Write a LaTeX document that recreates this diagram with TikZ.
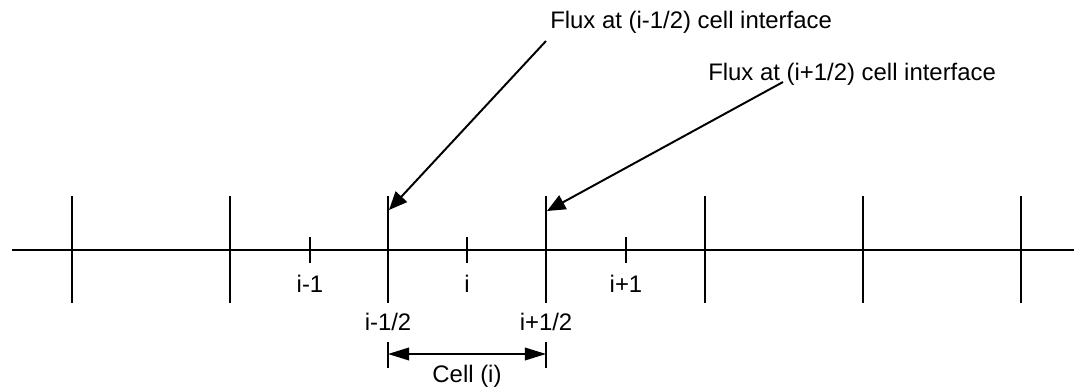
\documentclass[tikz,border=0pt]{standalone}
\usepackage{fontspec}
\setmainfont{Liberation Sans}
\usetikzlibrary{arrows.meta}
\tikzset{
  % grid line and cell faces
  axisline/.style={line width=0.9pt},
  facebar/.style={line width=1.4pt},
  centretick/.style={line width=1.4pt},
  % arrows
  fluxarrow/.style={line width=1.4pt,-{Triangle[length=13pt,width=11pt]}},
  cellarrow/.style={line width=1.1pt,{Triangle[length=15pt,width=9pt]}-{Triangle[length=15pt,width=9pt]}},
}

\begin{document}
\begin{tikzpicture}[
  x=0.025cm,y=-0.025cm,
  every node/.style={font=\fontsize{17}{20}\selectfont,inner sep=0pt},
]
\useasboundingbox (0,0) rectangle (1074,387);

%% ===== grid line =====
\coordinate (axL) at (12,250);
\coordinate (axR) at (1074,250);
\draw[axisline] (axL) -- (axR);

%% cell faces
\foreach \x [count=\k] in {72,230,388,546,705,863,1021} {
  \coordinate (ft\k) at (\x,196);
  \coordinate (fb\k) at (\x,303);
  \draw[facebar] (ft\k) -- (fb\k);
}

%% cell centres
\foreach \x/\nm/\t in {310/im/i-1, 467/ic/i, 626/ip/i+1} {
  \coordinate (\nm t) at (\x,237);
  \coordinate (\nm b) at (\x,263);
  \draw[centretick] (\nm t) -- (\nm b);
  \node (\nm lab) at (\x,284) {\t};
}

%% interface labels
\node (hm) at (388,322) {i-1/2};
\node (hp) at (546,322) {i+1/2};

%% ===== cell width =====
\coordinate (cLt) at (388,342); \coordinate (cLb) at (388,368);
\coordinate (cRt) at (546,342); \coordinate (cRb) at (546,368);
\coordinate (cLm) at (388,354); \coordinate (cRm) at (546,354);
\draw[facebar] (cLt) -- (cLb);
\draw[facebar] (cRt) -- (cRb);
\draw[cellarrow] (cLm) -- (cRm);
\node (celllab) at (467,376) {Cell (i)};

%% ===== fluxes =====
\node[anchor=west] (fluxA) at (550,22) {Flux at (i-1/2) cell interface};
\node[anchor=west] (fluxB) at (708,74) {Flux at (i+1/2) cell interface};
\coordinate (fA) at (546,41);  \coordinate (tipA) at (389,210);
\coordinate (fB) at (783,82);  \coordinate (tipB) at (547,211);
\draw[fluxarrow] (fA) -- (tipA);
\draw[fluxarrow] (fB) -- (tipB);
\end{tikzpicture}
\end{document}
